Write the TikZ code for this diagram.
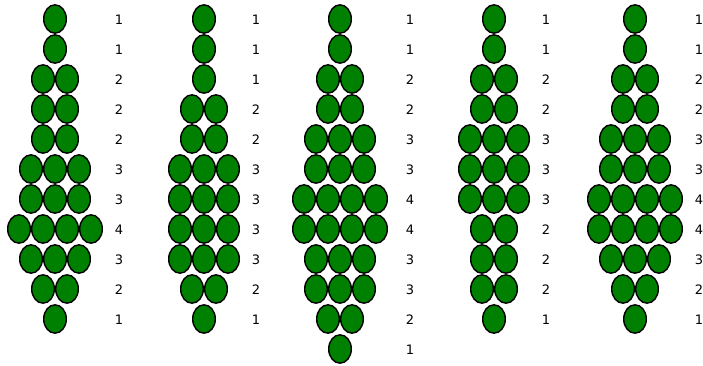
\documentclass[tikz,border=0pt]{standalone}
\usepackage{fontspec}
\setmainfont{DejaVu Sans}
\usetikzlibrary{shapes.geometric}
\definecolor{beadgreen}{RGB}{0,128,0}
\tikzset{
  bead/.style={ellipse,draw=black,fill=beadgreen,line width=1.4pt,
    minimum width=22.6pt,minimum height=28.4pt,inner sep=0pt},
  count/.style={font=\fontsize{13}{15}\selectfont,text=black,inner sep=0pt}
}
\begin{document}
\begin{tikzpicture}[x=1pt,y=-1pt]
\useasboundingbox (0,0) rectangle (703,365);
% one column of beads per pattern, row counts next to it
\foreach \cx/\lx/\rows [count=\c] in {55/119/{1,1,2,2,2,3,3,4,3,2,1},
    204/256/{1,1,1,2,2,3,3,3,3,2,1},
    340/410/{1,1,2,2,3,3,4,4,3,3,2,1},
    494/546/{1,1,2,2,3,3,3,2,2,2,1},
    635/699/{1,1,2,2,3,3,4,4,3,2,1}} {
  \foreach \n [count=\r] in \rows {
    \pgfmathsetmacro\yy{19+30*(\r-1)}
    \foreach \k in {1,...,\n} {
      \pgfmathsetmacro\xx{\cx+24*(\k-(\n+1)/2)}
      \node[bead] (b\c-\r-\k) at (\xx,\yy) {};
    }
    \node[count] (n\c-\r) at (\lx,\yy+1) {\n};
  }
}
\end{tikzpicture}
\end{document}
